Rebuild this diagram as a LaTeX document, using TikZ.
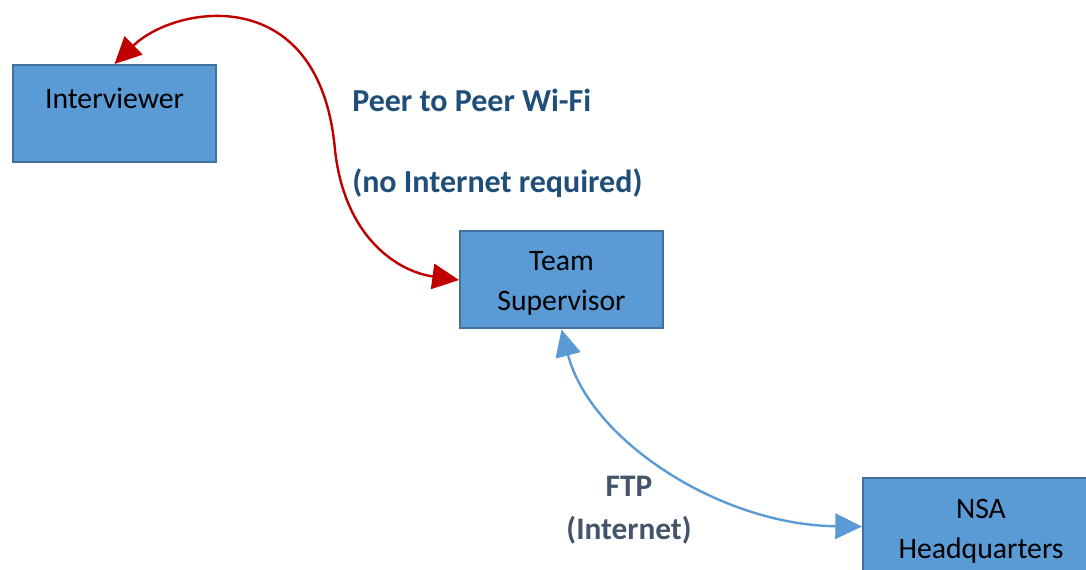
\documentclass[tikz,border=0pt]{standalone}
\usepackage{fontspec}
\setmainfont{Carlito}
\usetikzlibrary{arrows.meta}
\definecolor{boxfill}{HTML}{5B9BD5}
\definecolor{boxline}{HTML}{41719C}
\definecolor{wifired}{HTML}{C00000}
\definecolor{peerblue}{HTML}{1F4E79}
\definecolor{ftpgrey}{HTML}{44546A}
\tikzset{
  unit box/.style={draw=boxline, fill=boxfill, line width=1.5pt, inner sep=0pt,
    minimum width=152.25pt, minimum height=72.75pt, align=center,
    font=\fontsize{22.3}{30}\selectfont, text=black},
  wifi link/.style={draw=wifired, line width=1.8pt,
    {Triangle[length=20pt,width=19pt]}-{Triangle[length=20pt,width=19pt]}},
  ftp link/.style={draw=boxfill, line width=1.8pt,
    {Triangle[length=20pt,width=19pt]}-{Triangle[length=20pt,width=19pt]}},
  link label/.style={inner sep=0pt, font=\bfseries\fontsize{24}{30.4}\selectfont}
}
\begin{document}
\begin{tikzpicture}[x=0.75pt, y=-0.75pt]
\useasboundingbox (0,0) rectangle (1086,570);
\clip (0,0) rectangle (1086,570);
\fill[white] (0,0) rectangle (1086,570);
\node[unit box, text height=15pt, text depth=22pt] (interviewer) at (114.5,113.5) {Interviewer};
\node[unit box] (super) at (561.5,280) {\rule{0pt}{20pt}Team\\Supervisor};
\node[unit box, minimum width=177pt] (nsa) at (981,526.5) {\rule{0pt}{21.5pt}NSA\\Headquarters};
\node[link label, text=peerblue, align=left, anchor=west] (peer) at (352,143.5)
  {Peer to Peer Wi-Fi\\[30.4pt](no Internet required)};
\node[link label, text=ftpgrey, align=center, font=\bfseries\fontsize{23.5}{32}\selectfont] (ftp) at (629,510.5)
  {FTP\\(Internet)};
\coordinate (mid) at (335,150);
\path[wifi link] (interviewer.north) .. controls (175,5) and (320,-20) .. (mid)
  .. controls (345,240) and (400,272) .. (super.west);
\path[ftp link] (super.south) .. controls (590,440) and (720,525) .. (nsa.west);
\end{tikzpicture}
\end{document}
